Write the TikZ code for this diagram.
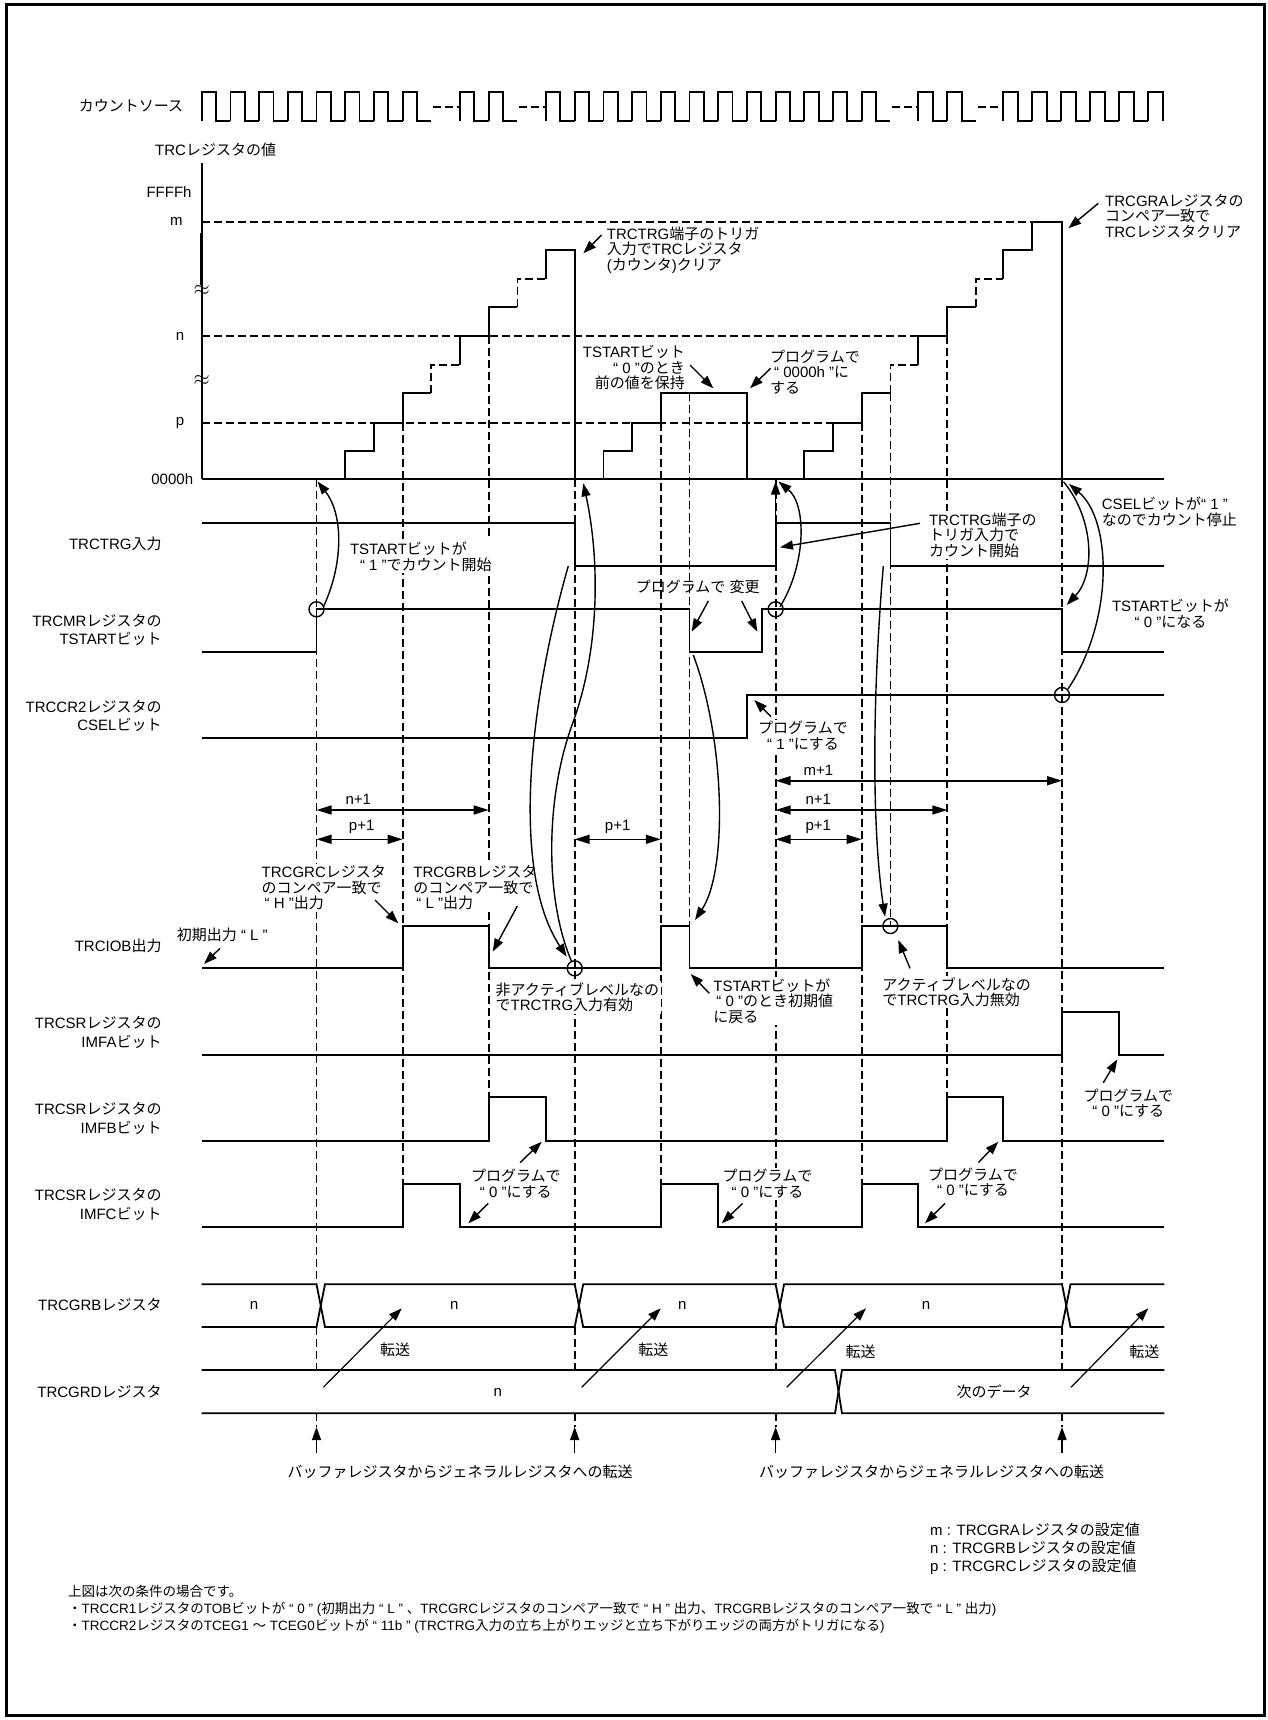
\documentclass[tikz,border=0pt]{standalone}
\usepackage{fontspec}
\setmainfont{Liberation Sans}
\newfontfamily\latfont{Liberation Sans}
\newfontfamily\jpfont{Noto Sans CJK JP}
\usetikzlibrary{arrows.meta}
\XeTeXinterchartokenstate=1
\chardef\jpclass=77
\makeatletter
\def\jprange#1#2{\count@=#1\relax
  \loop\XeTeXcharclass\count@=\jpclass\relax
  \ifnum\count@<#2\relax\advance\count@\@ne\repeat}
\makeatother
\jprange{"3000}{"30FF}
\jprange{"4E00}{"9FFF}
\jprange{"FF00}{"FFEF}
\XeTeXcharclass"201C=0
\XeTeXcharclass"201D=0
\XeTeXinterchartoks 0 \jpclass = {\jpfont}
\XeTeXinterchartoks 4095 \jpclass = {\jpfont}
\XeTeXinterchartoks \jpclass 0 = {\latfont}
\XeTeXinterchartoks \jpclass 4095 = {\latfont}
\newcommand\fsA{\fontsize{15pt}{15.5pt}\selectfont}
\newcommand\fsB{\fontsize{15pt}{18.3pt}\selectfont}
\newcommand\fsC{\fontsize{15pt}{17.8pt}\selectfont}
\begin{document}
\begin{tikzpicture}[x=1pt,y=-1pt,
  sigl/.style={line width=1.8pt},
  dsh/.style={line width=1.8pt, dash pattern=on 8pt off 4pt},
  arr/.style={line width=1.4pt,-{Triangle[length=13pt,width=9pt]}},
  dimarr/.style={line width=1.6pt,{Triangle[length=15pt,width=9pt]}-{Triangle[length=15pt,width=9pt]}},
  tx/.style={inner sep=0pt, font=\fsA},
  rl/.style={inner sep=0pt, font=\fsB, align=right, anchor=east},
  wbg/.style={fill=white, inner sep=1.5pt},
  line join=miter]
\useasboundingbox (0,0) rectangle (1267,1720);
\draw[line width=3pt] (6,5) rectangle (1264.5,1715.5);

% ---------- count source ----------
\foreach \s in {201.7,230.4,259.1,287.8,316.5,345.2,373.9,402.6,460,488.7,546,574.7,603.4,632.1,660.8,689.5,718.2,746.9,775.6,804.3,833,861.7}
  \draw[sigl] (\s,121) -- (\s,92.3) -- ++(14.35,0) -- ++(0,28.7) -- ++(14.35,0);
\foreach \s in {918.3,947.3,1003.3,1032.3,1061.3,1090.3,1119.3}
  \draw[sigl] (\s,121) -- (\s,92.3) -- ++(14.5,0) -- ++(0,28.7) -- ++(14.5,0);
\draw[sigl] (1148.3,121) -- (1148.3,92.3) -- (1162.8,92.3) -- (1162.8,121);
\draw[dsh] (433,106.7) -- (460,106.7);
\draw[dsh] (519,106.7) -- (546,106.7);
\draw[dsh] (892,106.7) -- (918.3,106.7);
\draw[dsh] (978,106.7) -- (1003.3,106.7);

% ---------- TRC value ----------
\draw[dsh] (201.7,221.7) -- (1032.3,221.7);
\draw[dsh] (201.7,336) -- (918.3,336);
\draw[dsh] (201.7,422.7) -- (861.7,422.7);
\draw[sigl] (201.7,163.3) -- (201.7,479.3);
\draw[line width=2.6pt] (201.7,233) -- (201.7,285);
\draw[sigl] (201.7,479.3) -- (1164.3,479.3);
\node[inner sep=0pt, font=\fontsize{20pt}{20pt}\selectfont] (wv1) at (201.7,290) {$\approx$};
\node[inner sep=0pt, font=\fontsize{20pt}{20pt}\selectfont] (wv2) at (201.7,380) {$\approx$};
% staircase 1
\draw[sigl] (345.2,479.3) -- (345.2,450.7) -- (373.9,450.7) -- (373.9,422.7) -- (402.6,422.7) -- (402.6,393.3) -- (431.3,393.3);
\draw[dsh] (431.3,393.3) -- (431.3,365) -- (460,365);
\draw[sigl] (460,365) -- (460,336) -- (488.7,336) -- (488.7,307.3) -- (517.4,307.3);
\draw[dsh] (517.4,307.3) -- (517.4,279.3) -- (546,279.3);
\draw[sigl] (546,279.3) -- (546,250) -- (574.7,250) -- (574.7,479.3);
% staircase 2
\draw[sigl] (603.4,479.3) -- (603.4,450.7) -- (632.1,450.7) -- (632.1,422.7) -- (660.8,422.7) -- (660.8,393.3) -- (746.9,393.3) -- (746.9,479.3);
% staircase 3
\draw[sigl] (804.3,479.3) -- (804.3,450.7) -- (833,450.7) -- (833,422.7) -- (861.7,422.7) -- (861.7,393.3) -- (890.4,393.3);
\draw[dsh] (890.4,393.3) -- (890.4,365) -- (918.3,365);
\draw[sigl] (918.3,365) -- (918.3,336) -- (947.3,336) -- (947.3,307.3) -- (976.3,307.3);
\draw[dsh] (976.3,307.3) -- (976.3,279.3) -- (1003.3,279.3);
\draw[sigl] (1003.3,279.3) -- (1003.3,250) -- (1032.3,250) -- (1032.3,221.7) -- (1062,221.7) -- (1062,479.3);

% ---------- time markers ----------
\foreach \x/\a/\b in {402.6/422.7/1184, 488.7/336/1097.3, 660.8/422.7/1184, 689.5/393.3/968.3, 861.7/422.7/1184, 890.4/393.3/926, 947.3/336/1097.3}
  \draw[dsh] (\x,\a) -- (\x,\b);
\foreach \x in {316.5,574.7,775.6,1062} {
  \draw[dsh] (\x,479.3) -- (\x,1284.3);
  \draw[dsh] (\x,1327) -- (\x,1370);
  \draw[dsh] (\x,1413.3) -- (\x,1427);
  \draw[arr] (\x,1453.3) -- (\x,1427);
}

% ---------- signals ----------
\draw[sigl] (201.7,522.7) -- (574.7,522.7) -- (574.7,566) -- (775.6,566) -- (775.6,522.7) -- (890.4,522.7) -- (890.4,566) -- (1164.3,566);
\draw[sigl] (201.7,651.7) -- (316.5,651.7) -- (316.5,609.3) -- (689.5,609.3) -- (689.5,651.7) -- (761.7,651.7) -- (761.7,609.3) -- (1062,609.3) -- (1062,651.7) -- (1164.3,651.7);
\draw[sigl] (201.7,738.3) -- (746.9,738.3) -- (746.9,695) -- (1164.3,695);
\draw[sigl] (201.7,968.3) -- (402.6,968.3) -- (402.6,926) -- (488.7,926) -- (488.7,968.3) -- (660.8,968.3) -- (660.8,926) -- (689.5,926) -- (689.5,968.3) -- (861.7,968.3) -- (861.7,926) -- (947.3,926) -- (947.3,968.3) -- (1164.3,968.3);
\draw[sigl] (201.7,1055) -- (1062,1055) -- (1062,1011.7) -- (1119.3,1011.7) -- (1119.3,1055) -- (1164.3,1055);
\draw[sigl] (201.7,1140.7) -- (488.7,1140.7) -- (488.7,1097.3) -- (546,1097.3) -- (546,1140.7) -- (947.3,1140.7) -- (947.3,1097.3) -- (1003.3,1097.3) -- (1003.3,1140.7) -- (1164.3,1140.7);
\draw[sigl] (201.7,1226.7) -- (402.6,1226.7) -- (402.6,1184) -- (460,1184) -- (460,1226.7) -- (660.8,1226.7) -- (660.8,1184) -- (718.2,1184) -- (718.2,1226.7) -- (861.7,1226.7) -- (861.7,1184) -- (918.3,1184) -- (918.3,1226.7) -- (1164.3,1226.7);
% TRCGRB bus
\draw[sigl] (201.7,1284.3) -- (316.5,1284.3) -- (325,1327) -- (574.7,1327) -- (583.2,1284.3) -- (775.6,1284.3) -- (784.1,1327) -- (1062,1327) -- (1070.5,1284.3) -- (1164.3,1284.3);
\draw[sigl] (201.7,1327) -- (316.5,1327) -- (325,1284.3) -- (574.7,1284.3) -- (583.2,1327) -- (775.6,1327) -- (784.1,1284.3) -- (1062,1284.3) -- (1070.5,1327) -- (1164.3,1327);
% TRCGRD bus
\draw[sigl] (201.7,1370) -- (835,1370) -- (842,1413.3) -- (1164.3,1413.3);
\draw[sigl] (201.7,1413.3) -- (835,1413.3) -- (842,1370) -- (1164.3,1370);

% circles
\foreach \cx/\cy in {316.5/609.3, 775.6/609.3, 1062/695, 574.7/968.3, 890.4/926}
  \draw[line width=1.4pt] (\cx,\cy) circle[radius=7.5];

% dimension arrows
\draw[dimarr] (316.5,810) -- (488.7,810);
\draw[dimarr] (316.5,839.3) -- (402.6,839.3);
\draw[dimarr] (574.7,839.3) -- (660.8,839.3);
\draw[dimarr] (775.6,780.7) -- (1062,780.7);
\draw[dimarr] (775.6,810) -- (947.3,810);
\draw[dimarr] (775.6,839.3) -- (861.7,839.3);
\node[tx] (d1) at (358.3,799.3) {n+1};
\node[tx] (d2) at (361.7,827.3) {p+1};
\node[tx] (d3) at (617.7,827.3) {p+1};
\node[tx] (d4) at (818.3,770.7) {m+1};
\node[tx] (d5) at (818.3,799.3) {n+1};
\node[tx] (d6) at (818.3,827.3) {p+1};

% ---------- row labels ----------
\node[rl] (lcs) at (183.3,106) {カウントソース};
\node[tx, anchor=west] (ltrc) at (155,149.3) {TRCレジスタの値};
\node[tx, anchor=east] (lff) at (191.7,192.3) {FFFFh};
\node[tx, anchor=east] (lm) at (182.7,221.7) {m};
\node[tx, anchor=east] (ln) at (184.3,336) {n};
\node[tx, anchor=east] (lp) at (184.3,422.7) {p};
\node[tx, anchor=east] (l0) at (193.3,479.3) {0000h};
\node[rl] (ltrg) at (161.7,544) {TRCTRG入力};
\node[rl] (lts) at (161.7,630.2) {TRCMRレジスタの\\TSTARTビット};
\node[rl] (lcsel) at (161.7,715.8) {TRCCR2レジスタの\\CSELビット};
\node[rl] (liob) at (161.7,946) {TRCIOB出力};
\node[rl] (lfa) at (161.7,1032.5) {TRCSRレジスタの\\IMFAビット};
\node[rl] (lfb) at (161.7,1118.3) {TRCSRレジスタの\\IMFBビット};
\node[rl] (lfc) at (161.7,1204.5) {TRCSRレジスタの\\IMFCビット};
\node[rl] (lgrb) at (161.7,1305) {TRCGRBレジスタ};
\node[rl] (lgrd) at (161.7,1391.7) {TRCGRDレジスタ};

% bus values
\node[tx] (v1) at (254,1305.7) {n};
\node[tx] (v2) at (454.3,1305.7) {n};
\node[tx] (v3) at (682.3,1305.7) {n};
\node[tx] (v4) at (926,1305.7) {n};
\node[tx] (v5) at (497.7,1392) {n};
\node[tx] (v6) at (994,1392) {次のデータ};
% transfer arrows
\draw[arr, line width=1.2pt] (323.3,1387.3) -- (401.7,1308.3);
\draw[arr, line width=1.2pt] (581.7,1387.3) -- (660.7,1308.3);
\draw[arr, line width=1.2pt] (786.7,1387.3) -- (866,1308.3);
\draw[arr, line width=1.2pt] (1071,1387.3) -- (1148.3,1308.3);
\node[tx] (t1) at (395,1349.3) {転送};
\node[tx] (t2) at (653.3,1349.3) {転送};
\node[tx] (t3) at (860.7,1351.7) {転送};
\node[tx] (t4) at (1144.3,1351.7) {転送};
\node[tx] (b1) at (460,1471.7) {バッファレジスタからジェネラルレジスタへの転送};
\node[tx] (b2) at (931.7,1471.7) {バッファレジスタからジェネラルレジスタへの転送};

% ---------- annotations ----------
\node[tx, anchor=west, align=left] (a1) at (606.7,250) {TRCTRG端子のトリガ\\入力でTRCレジスタ\\(カウンタ)クリア};
\draw[arr] (601.7,235) -- (583.3,253.3);
\node[tx, anchor=east, align=right] (a2) at (685,367.5) {TSTARTビット\\“ 0 ”のとき\\前の値を保持};
\draw[arr] (690,365) -- (713.3,388.3);
\node[tx, anchor=west, align=left] (a3) at (770,372) {プログラムで\\\hspace*{4pt}“ 0000h ”に\\する};
\draw[arr] (770.7,368.3) -- (750,388.3);
\node[tx, anchor=west, align=left] (a4) at (1105,215.8) {TRCGRAレジスタの\\コンペア一致で\\TRCレジスタクリア};
\draw[arr] (1098.3,203.3) -- (1068.3,228.3);

\node[tx, wbg, anchor=west, align=left] (a5) at (348.3,556.7) {TSTARTビットが\\\hspace*{10pt}“ 1 ”でカウント開始};
\node[tx, wbg, anchor=west, align=left] (a6) at (927.3,535.3) {TRCTRG端子の\\トリガ入力で\\カウント開始};
\draw[arr] (920,523.3) -- (780,547.3);
\node[tx, anchor=west, align=left] (a7) at (1101.7,511.8) {CSELビットが“ 1 ”\\なのでカウント停止};
\node[tx, align=center] (a8) at (1170.5,613.7) {TSTARTビットが\\“ 0 ”になる};
\node[tx] (a9) at (697.7,586.7) {プログラムで 変更};
\draw[arr] (708.3,601) -- (691.7,631.7);
\draw[arr] (741.7,601) -- (757.3,631.7);
\node[tx, wbg, align=center] (a10) at (803,735.8) {プログラムで\\“ 1 ”にする};
\draw[arr] (771,716.7) -- (754.3,700);

\node[tx, wbg, anchor=west, align=left] (a11) at (260,888) {TRCGRCレジスタ\\のコンペア一致で\\\hspace*{3pt}“ H ”出力};
\draw[arr] (375,900) -- (398.3,923.3);
\node[tx, wbg, anchor=west, align=left] (a12) at (411.7,888) {TRCGRBレジスタ\\のコンペア一致で\\\hspace*{3pt}“ L ”出力};
\draw[arr] (517.3,906) -- (492.7,951.7);
\node[tx, anchor=west] (a13) at (176.7,935) {初期出力 “ L ”};
\draw[arr] (220,948.3) -- (204,964);
\node[tx, wbg, anchor=west, align=left] (a14) at (494,997.2) {非アクティブレベルなの\\でTRCTRG入力有効};
\node[tx, wbg, anchor=west, align=left] (a15) at (711.7,1000.8) {TSTARTビットが\\\hspace*{3pt}“ 0 ”のとき初期値\\に戻る};
\draw[arr] (709.3,993.3) -- (690.7,974);
\node[tx, wbg, anchor=west, align=left] (a16) at (880.7,992) {アクティブレベルなの\\でTRCTRG入力無効};
\draw[arr] (910,968.3) -- (898.3,940);
\node[tx, wbg, align=center] (a17) at (1128.3,1103.3) {プログラムで\\“ 0 ”にする};
\draw[arr] (1103.3,1082.7) -- (1117.3,1059.3);
\node[tx, wbg, align=center] (a18) at (515.8,1183.8) {プログラムで\\“ 0 ”にする};
\draw[arr] (520,1162.7) -- (541.7,1141.7);
\draw[arr] (488.3,1203.3) -- (468.3,1223.3);
\node[tx, wbg, align=center] (a19) at (767.5,1183.8) {プログラムで\\“ 0 ”にする};
\draw[arr] (742.7,1203.3) -- (721.7,1223.3);
\node[tx, wbg, align=center] (a20) at (973,1182) {プログラムで\\“ 0 ”にする};
\draw[arr] (978.3,1162.7) -- (998.3,1141.7);
\draw[arr] (945,1203.3) -- (925,1223.3);

% ---------- curved arrows ----------
\draw[arr] (323.5,606.5) .. controls (343,565) and (344,515) .. (317.5,481.5);
\draw[arr] (780,606.7) .. controls (806,565) and (807,505) .. (778.5,481.5);
\draw[arr] (775.6,522.7) -- (775.6,481.5);
\draw[arr] (1068,689) .. controls (1114,620) and (1112,520) .. (1069,484);
\draw[arr] (1063.5,481.7) .. controls (1095,520) and (1095,575) .. (1066.7,605);
\draw[arr] (568.3,566) .. controls (530,700) and (510,870) .. (566.7,956.7);
\draw[arr] (571.7,961.7) .. controls (545,900) and (545,800) .. (572,725) .. controls (600,650) and (600,560) .. (583.3,483.3);
\draw[arr] (693.3,655) .. controls (725,740) and (728,870) .. (695,920);
\draw[arr] (883.3,566) .. controls (872,700) and (872,830) .. (885,916.7);

% ---------- legend and notes ----------
\node[inner sep=0pt, font=\fsC, anchor=west, align=left] (leg) at (930,1549) {m : TRCGRAレジスタの設定値\\n : TRCGRBレジスタの設定値\\p : TRCGRCレジスタの設定値};
\node[inner sep=0pt, font=\fontsize{13.5pt}{17pt}\selectfont, anchor=north west, align=left] (note) at (68,1585) {上図は次の条件の場合です。\\・TRCCR1レジスタのTOBビットが “ 0 ” (初期出力 “ L ” 、TRCGRCレジスタのコンペア一致で “ H ” 出力、TRCGRBレジスタのコンペア一致で “ L ” 出力)\\・TRCCR2レジスタのTCEG1 ～ TCEG0ビットが “ 11b ” (TRCTRG入力の立ち上がりエッジと立ち下がりエッジの両方がトリガになる)};
\end{tikzpicture}
\end{document}
